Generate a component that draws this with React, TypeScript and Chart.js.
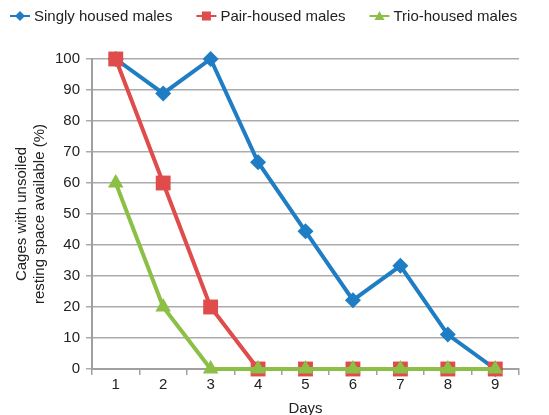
import React, { useEffect, useRef } from "react";
import { Chart, registerables } from "chart.js";

Chart.register(...registerables);

const days = ["1", "2", "3", "4", "5", "6", "7", "8", "9"];
const singly = [100, 88.9, 100, 66.7, 44.4, 22.2, 33.3, 11.1, 0];
const pair = [100, 60, 20, 0, 0, 0, 0, 0, 0];
const trio = [60, 20, 0, 0, 0, 0, 0, 0, 0];
const seriesNames = ["Singly housed males", "Pair-housed males", "Trio-housed males"];
const seriesColors = ["#1f7dc4", "#e04b4b", "#8cbf45"];
const seriesMarkers = ["rectRot", "rect", "triangle"];
const yTitle = ["Cages with unsoiled", "resting space available (%)"];
const xTitle = "Days";

const FONT = "'Liberation Sans', Arial, sans-serif";

const legendPlugin = {
  id: "customLegend",
  afterDraw(chart: any) {
    const ctx = chart.ctx as CanvasRenderingContext2D;
    ctx.save();
    ctx.font = `15px ${FONT}`;
    ctx.textBaseline = "middle";
    let x = 10;
    const y = 16;
    seriesNames.forEach((name, i) => {
      const c = seriesColors[i];
      ctx.strokeStyle = c;
      ctx.lineWidth = 2;
      ctx.beginPath();
      ctx.moveTo(x, y);
      ctx.lineTo(x + 20, y);
      ctx.stroke();
      ctx.fillStyle = c;
      const cx = x + 10;
      ctx.beginPath();
      if (seriesMarkers[i] === "rectRot") {
        ctx.moveTo(cx - 5, y);
        ctx.lineTo(cx, y - 5);
        ctx.lineTo(cx + 5, y);
        ctx.lineTo(cx, y + 5);
      } else if (seriesMarkers[i] === "rect") {
        ctx.rect(cx - 4.5, y - 4.5, 9, 9);
      } else {
        ctx.moveTo(cx, y - 5);
        ctx.lineTo(cx + 5, y + 4);
        ctx.lineTo(cx - 5, y + 4);
      }
      ctx.closePath();
      ctx.fill();
      ctx.fillStyle = "#222";
      ctx.textAlign = "left";
      ctx.fillText(name, x + 24, y + 1);
      x = x + 24 + ctx.measureText(name).width + 24;
    });
    ctx.restore();
  },
};

export default function App() {
  const ref = useRef<HTMLCanvasElement>(null);
  useEffect(() => {
    if (!ref.current) return;
    const values = [singly, pair, trio];
    const chart = new Chart(ref.current, {
      type: "line",
      data: {
        labels: days,
        datasets: values.map((v, i) => ({
          label: seriesNames[i],
          data: v,
          borderColor: seriesColors[i],
          backgroundColor: seriesColors[i],
          borderWidth: 4,
          pointStyle: seriesMarkers[i] as any,
          pointRadius: i === 0 ? 8 : i === 1 ? 10.5 : 9,
          pointBorderWidth: 0,
          pointHoverRadius: 8,
          tension: 0,
          clip: false as any,
          order: 2 - i,
        })),
      },
      options: {
        animation: false,
        responsive: true,
        maintainAspectRatio: false,
        layout: { padding: { top: 59, right: 30, bottom: -3, left: 13 } },
        plugins: { legend: { display: false }, tooltip: { enabled: false } },
        scales: {
          x: {
            offset: true,
            grid: {
              display: true,
              drawOnChartArea: false,
              drawTicks: true,
              tickLength: 6,
              offset: true,
              color: "#a0a0a0",
              lineWidth: 1.5,
            },
            border: { color: "#a0a0a0", width: 2 },
            ticks: { color: "#222", font: { family: FONT, size: 15 }, padding: 1 },
            title: {
              display: true,
              text: xTitle,
              color: "#222",
              font: { family: FONT, size: 15 },
              padding: { top: 5, bottom: 0 },
            },
          },
          y: {
            min: 0,
            max: 100,
            ticks: { stepSize: 10, color: "#222", font: { family: FONT, size: 15 }, padding: 6 },
            grid: { color: "#ababab", lineWidth: 1.5, tickLength: 6 },
            border: { color: "#a0a0a0", width: 2 },
            title: {
              display: true,
              text: yTitle,
              color: "#222",
              font: { family: FONT, size: 15, lineHeight: 1.2 },
              padding: { top: 0, bottom: 0 },
            },
          },
        },
      },
      plugins: [legendPlugin],
    });
    return () => chart.destroy();
  }, []);
  return (
    <div style={{ position: "fixed", left: 0, top: 0, width: 549, height: 415, background: "#fff" }}>
      <canvas ref={ref} />
    </div>
  );
}
